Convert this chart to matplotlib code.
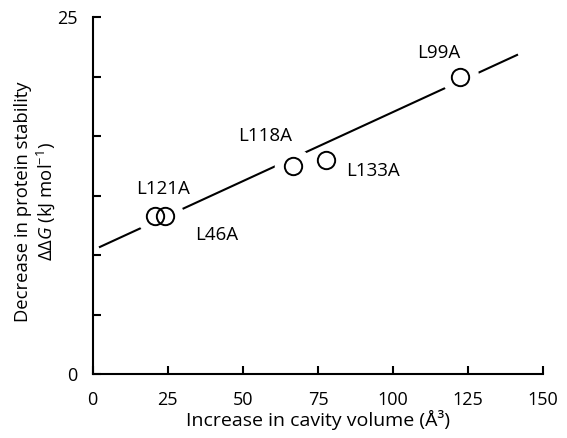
import matplotlib.pyplot as plt
import numpy as np

plt.rcParams['font.family'] = 'Open Sans'
plt.rcParams['mathtext.fontset'] = 'custom'
plt.rcParams['mathtext.rm'] = 'Open Sans'
plt.rcParams['mathtext.it'] = 'Open Sans:italic'

# data
mutants = ['L121A', 'L46A', 'L118A', 'L133A', 'L99A']
cavity_volume = [20.7, 24.1, 66.8, 77.6, 122.3]
ddg = [11.1, 11.1, 14.6, 15.0, 20.8]

# straight line drawn through the points
line_x = [2.4, 141.3]
slope = 0.0968
intercept = 8.67

xticks = [0, 25, 50, 75, 100, 125, 150]

# label offsets (pixels, right / down)
label_off = {'L121A': (8, -27), 'L46A': (52, 19), 'L118A': (-28, -30),
             'L133A': (47, 11), 'L99A': (-21, -24)}

fig = plt.figure(figsize=(5.67, 4.38), dpi=100)
ax = fig.add_axes([0.1635, 0.146, 0.7945, 0.815])

lx = np.array(line_x)
ax.plot(lx, intercept + slope * lx, color='black', lw=1.5, zorder=1)

x = np.array(cavity_volume)
y = np.array(ddg)
# white halo breaks the line around points sitting on it
near = np.abs(y - (intercept + slope * x)) < 1.0
ax.plot(x[near], y[near], 'o', ms=26, mfc='white', mec='white', zorder=2)
ax.plot(x, y, 'o', ms=12.5, mfc='none', mec='black', mew=1.4, zorder=3)

for name, xi, yi in zip(mutants, x, y):
    dx, dy = label_off[name]
    ax.annotate(name, (xi, yi), xytext=(dx * 0.72, -dy * 0.72),
                textcoords='offset points', ha='center', va='center',
                fontsize=13.5)

ax.set_xlim(0, 150)
ax.set_ylim(0, 25)
ax.set_xticks(xticks)
ax.set_xticklabels([str(t) for t in xticks])
ax.set_yticks(np.linspace(0, 25, 7))
ax.set_yticklabels(['0', '', '', '', '', '', '25'])
ax.tick_params(direction='in', length=6, width=1.5, labelsize=13)
ax.tick_params(axis='x', pad=12)
ax.tick_params(axis='y', pad=11)
for s in ['top', 'right']:
    ax.spines[s].set_visible(False)
for s in ['left', 'bottom']:
    ax.spines[s].set_linewidth(1.5)

ax.set_xlabel('Increase in cavity volume (Å³)', fontsize=14, labelpad=1)
ax.set_ylabel('Decrease in protein stability\n'
              r'$\Delta\Delta$$\mathit{G}$ (kJ mol$^{-1}$)',
              fontsize=13.3, linespacing=1.15)
ax.yaxis.set_label_coords(-0.079, 0.482)

fig.savefig('out.png', dpi=100)
